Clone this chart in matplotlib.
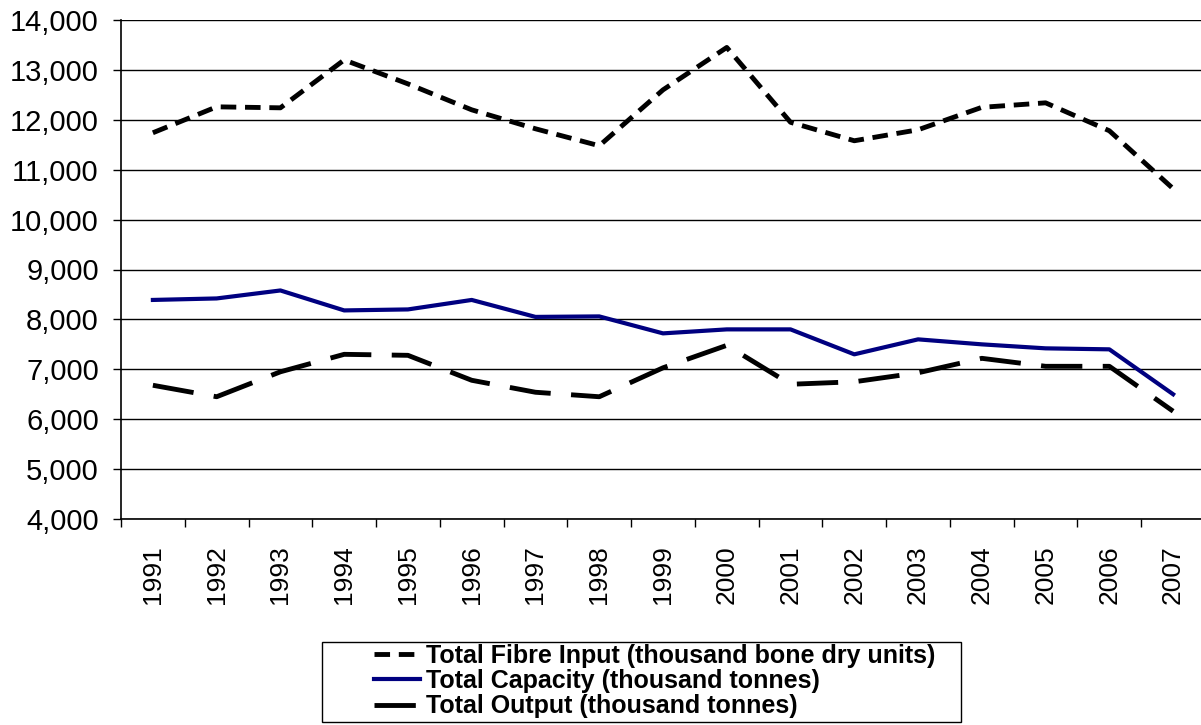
import numpy as np
import matplotlib.pyplot as plt
from matplotlib.patches import Rectangle

years = [str(y) for y in range(1991, 2008)]
fibre_input = [11740, 12260, 12240, 13200, 12720, 12200, 11820, 11480, 12600,
               13450, 11950, 11580, 11800, 12250, 12340, 11780, 10620]
capacity = [8390, 8420, 8580, 8180, 8200, 8390, 8050, 8060, 7720,
            7800, 7800, 7300, 7600, 7500, 7420, 7400, 6500]
output = [6680, 6450, 6950, 7300, 7280, 6780, 6540, 6450, 7030,
          7480, 6700, 6750, 6930, 7220, 7060, 7060, 6160]

plt.rcParams['font.family'] = ['Liberation Sans', 'DejaVu Sans']

W, H = 1201, 725
fig = plt.figure(figsize=(W / 100, H / 100), dpi=100)
ax = fig.add_axes([121 / W, 1 - 519 / H, 1084 / W, 499 / H])

x = np.arange(len(years))
ax.plot(x, fibre_input, color='black', lw=3.5, dashes=(3.2, 1.8),
        label='Total Fibre Input (thousand bone dry units)')
ax.plot(x, capacity, color='#000080', lw=3.0,
        label='Total Capacity (thousand tonnes)')
ax.plot(x, output, color='black', lw=3.5, dashes=(8.5, 4.2),
        label='Total Output (thousand tonnes)')

ax.set_xlim(-0.5, len(years) - 0.5)
ax.set_ylim(4000, 14000)
ax.set_yticks(range(4000, 14001, 1000))
ax.set_yticklabels([f"{v:,}" for v in range(4000, 14001, 1000)], fontsize=21)
ax.yaxis.grid(True, color='black', lw=1.0)
ax.set_axisbelow(True)

ax.set_xticks(x)
ax.set_xticklabels(years, rotation=90, fontsize=19)
ax.set_xticks(np.arange(-0.5, len(years), 1.0), minor=True)
ax.tick_params(axis='x', which='major', length=0, pad=19)
ax.tick_params(axis='x', which='minor', length=6, width=1, direction='out')
ax.tick_params(axis='y', length=6, width=1, direction='out', pad=10)

for s in ['top', 'right']:
    ax.spines[s].set_visible(False)
ax.spines['left'].set_linewidth(1.2)
ax.spines['bottom'].set_linewidth(1.2)

# legend without its own frame, box drawn separately to match the wide original
leg = fig.legend(loc='center left', bbox_to_anchor=(374 / W, 1 - 681 / H),
                 frameon=False, prop={'weight': 'bold', 'size': 18},
                 handlelength=1.85, handletextpad=0.25, borderpad=0,
                 labelspacing=0.06, borderaxespad=0)
leg._legend_box.align = 'left'
fig.patches.append(Rectangle((322 / W, 1 - 722 / H), 639 / W, 80 / H,
                             transform=fig.transFigure, fill=False,
                             edgecolor='black', lw=1.0))

fig.savefig('out.png', dpi=100)
